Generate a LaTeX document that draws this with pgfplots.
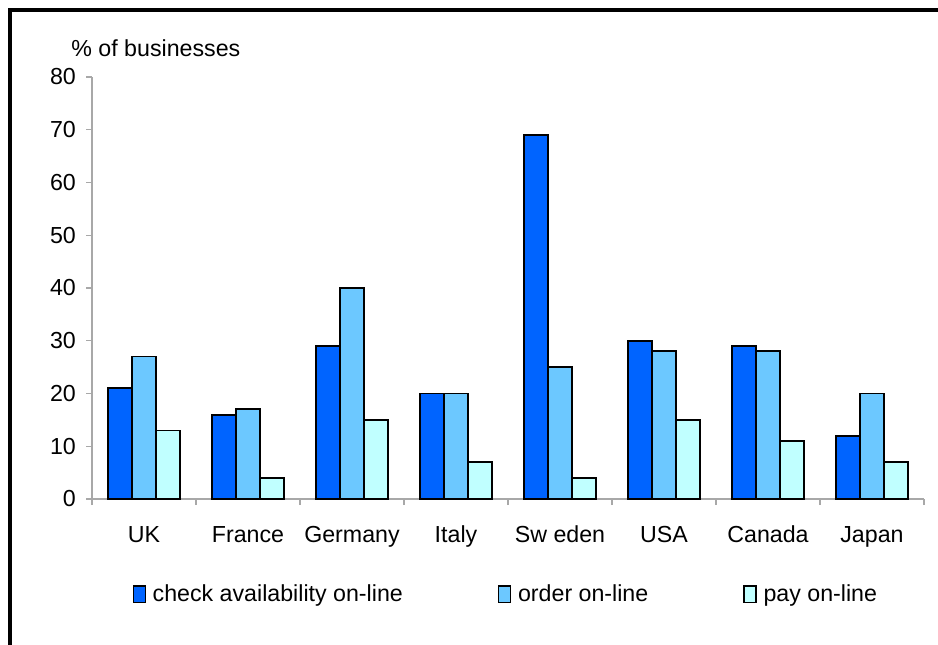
\documentclass[border=0pt]{standalone}
\usepackage{pgfplots}
\pgfplotsset{compat=1.18}
\usepackage{fontspec}
\setmainfont{Liberation Sans}
\definecolor{cA}{HTML}{0064FF}
\definecolor{cB}{HTML}{6CC8FF}
\definecolor{cC}{HTML}{C0FFFF}
\definecolor{axgray}{HTML}{A8A8A8}
\begin{document}
\fontsize{11.6}{13.5}\selectfont
\begin{tikzpicture}
\useasboundingbox (0,0) rectangle (469pt,322pt);
\clip (0,0) rectangle (469pt,322pt);
\draw[line width=1.6pt] (5pt,-10pt) -- (5pt,317pt) -- (480pt,317pt);
\node[anchor=west, inner sep=0pt] at (35.5pt,298pt) {\% of businesses};
\begin{axis}[
  at={(46pt,72.5pt)}, anchor=south west,
  scale only axis, width=416pt, height=211pt,
  xmin=-0.5, xmax=7.5, ymin=0, ymax=80,
  ytick={0,10,...,80},
  axis x line=bottom, axis y line=left,
  axis line style={-, axgray, line width=0.6pt},
  tick style={axgray, line width=0.6pt},
  tick align=outside, major tick length=3pt,
  xtick={-0.5,0.5,...,7.5}, xticklabels={},
  extra x ticks={0,1,2,3,4,5,6,7},
  extra x tick labels={UK,France,Germany,Italy,Sw eden,USA,Canada,Japan},
  extra x tick style={major tick length=0pt, tick label style={yshift=-9.5pt}},
  yticklabel style={xshift=-1pt},
  /pgf/number format/assume math mode=true,
  ybar=0pt, bar width=12pt,
  enlargelimits=false,
  legend columns=3,
  legend style={draw=none, fill=none, at={(0.041,-0.226)}, anchor=west,
     /tikz/every odd column/.append style={column sep=1.5pt},
     /tikz/every even column/.append style={column sep=45.5pt}},
  legend image code/.code={\draw[#1, line width=0.6pt] (0pt,-4.2pt) rectangle (6pt,4.2pt);},
]
\addplot[fill=cA, draw=black, line width=0.9pt] coordinates {(0,21) (1,16) (2,29) (3,20) (4,69) (5,30) (6,29) (7,12)};
\addplot[fill=cB, draw=black, line width=0.9pt] coordinates {(0,27) (1,17) (2,40) (3,20) (4,25) (5,28) (6,28) (7,20)};
\addplot[fill=cC, draw=black, line width=0.9pt] coordinates {(0,13) (1,4) (2,15) (3,7) (4,4) (5,15) (6,11) (7,7)};
\legend{check availability on-line, order on-line, pay on-line}
\end{axis}
\end{tikzpicture}
\end{document}
